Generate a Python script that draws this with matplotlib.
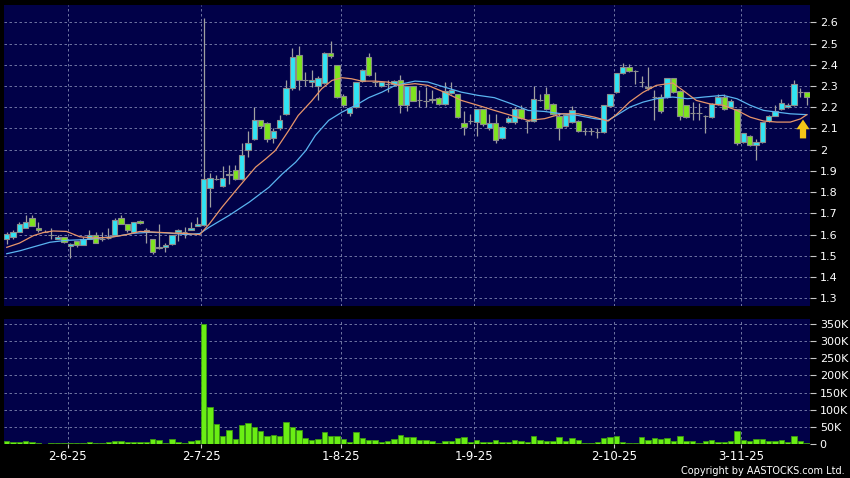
import numpy as np
import matplotlib
matplotlib.use("Agg")
import matplotlib.pyplot as plt

# daily candles, oldest first
opens = [1.58, 1.59, 1.61, 1.63, 1.68, 1.63, 1.61, 1.60, 1.58, 1.59,
         1.545, 1.57, 1.55, 1.58, 1.60, 1.58, 1.585, 1.60, 1.68, 1.65,
         1.61, 1.665, 1.62, 1.58, 1.535, 1.54, 1.555, 1.61, 1.61, 1.62,
         1.64, 1.645, 1.82, 1.86, 1.83, 1.88, 1.905, 1.86, 2.0, 2.05,
         2.14, 2.125, 2.055, 2.1, 2.17, 2.29, 2.445, 2.33, 2.32, 2.30,
         2.315, 2.455, 2.40, 2.255, 2.175, 2.2, 2.325, 2.435, 2.32, 2.30,
         2.31, 2.31, 2.33, 2.21, 2.30, 2.235, 2.23, 2.232, 2.245, 2.215,
         2.265, 2.26, 2.125, 2.135, 2.13, 2.19, 2.10, 2.125, 2.055, 2.13,
         2.13, 2.19, 2.135, 2.135, 2.235, 2.26, 2.215, 2.16, 2.11, 2.13,
         2.135, 2.09, 2.09, 2.085, 2.085, 2.205, 2.27, 2.36, 2.39, 2.37,
         2.32, 2.295, 2.25, 2.25, 2.25, 2.34, 2.275, 2.21, 2.175, 2.175,
         2.16, 2.155, 2.215, 2.25, 2.20, 2.19, 2.035, 2.065, 2.02, 2.035,
         2.135, 2.16, 2.19, 2.20, 2.21, 2.27, 2.27]
highs = [1.61, 1.62, 1.66, 1.69, 1.69, 1.66, 1.62, 1.63, 1.60, 1.59,
         1.56, 1.57, 1.59, 1.62, 1.61, 1.61, 1.63, 1.68, 1.69, 1.65,
         1.66, 1.67, 1.63, 1.58, 1.65, 1.56, 1.60, 1.625, 1.635, 1.66,
         1.683, 2.62, 1.89, 1.88, 1.925, 1.93, 1.93, 2.03, 2.09, 2.2,
         2.14, 2.13, 2.1, 2.165, 2.33, 2.48, 2.49, 2.365, 2.375, 2.345,
         2.46, 2.51, 2.40, 2.26, 2.2, 2.32, 2.38, 2.455, 2.365, 2.325,
         2.33, 2.33, 2.35, 2.30, 2.30, 2.28, 2.295, 2.28, 2.25, 2.32,
         2.32, 2.26, 2.18, 2.17, 2.19, 2.19, 2.17, 2.17, 2.11, 2.16,
         2.2, 2.21, 2.14, 2.30, 2.26, 2.295, 2.22, 2.17, 2.17, 2.205,
         2.14, 2.10, 2.10, 2.10, 2.21, 2.26, 2.36, 2.41, 2.405, 2.375,
         2.345, 2.39, 2.28, 2.26, 2.34, 2.34, 2.28, 2.21, 2.225, 2.22,
         2.165, 2.22, 2.26, 2.26, 2.24, 2.19, 2.08, 2.07, 2.05, 2.13,
         2.165, 2.21, 2.24, 2.22, 2.33, 2.29, 2.27]
lows = [1.555, 1.58, 1.61, 1.63, 1.64, 1.61, 1.61, 1.58, 1.58, 1.56,
        1.49, 1.54, 1.55, 1.58, 1.56, 1.57, 1.58, 1.60, 1.65, 1.61,
        1.61, 1.65, 1.56, 1.51, 1.53, 1.52, 1.55, 1.57, 1.585, 1.62,
        1.64, 1.64, 1.73, 1.855, 1.825, 1.84, 1.855, 1.855, 1.965, 2.045,
        2.1, 2.035, 2.03, 2.095, 2.165, 2.28, 2.28, 2.3, 2.295, 2.235,
        2.31, 2.43, 2.245, 2.2, 2.16, 2.195, 2.32, 2.345, 2.3, 2.295,
        2.27, 2.30, 2.175, 2.18, 2.23, 2.2, 2.2, 2.22, 2.21, 2.21,
        2.26, 2.15, 2.07, 2.12, 2.065, 2.11, 2.095, 2.03, 2.05, 2.125,
        2.12, 2.145, 2.08, 2.13, 2.23, 2.185, 2.165, 2.045, 2.105, 2.125,
        2.085, 2.07, 2.07, 2.056, 2.08, 2.2, 2.265, 2.355, 2.365, 2.31,
        2.295, 2.28, 2.14, 2.175, 2.245, 2.265, 2.14, 2.15, 2.14, 2.14,
        2.08, 2.15, 2.21, 2.185, 2.195, 2.02, 2.03, 2.015, 1.95, 2.03,
        2.13, 2.16, 2.185, 2.195, 2.205, 2.25, 2.21]
closes = [1.605, 1.61, 1.65, 1.66, 1.64, 1.62, 1.61, 1.60, 1.59, 1.565,
          1.555, 1.55, 1.58, 1.60, 1.56, 1.58, 1.585, 1.67, 1.65, 1.62,
          1.66, 1.655, 1.615, 1.52, 1.54, 1.55, 1.60, 1.62, 1.61, 1.632,
          1.648, 1.86, 1.865, 1.86, 1.865, 1.885, 1.86, 1.975, 2.03, 2.14,
          2.11, 2.05, 2.09, 2.14, 2.29, 2.435, 2.33, 2.33, 2.33, 2.34,
          2.455, 2.44, 2.25, 2.21, 2.195, 2.32, 2.375, 2.35, 2.32, 2.32,
          2.31, 2.325, 2.21, 2.30, 2.23, 2.235, 2.23, 2.24, 2.215, 2.275,
          2.28, 2.155, 2.105, 2.135, 2.19, 2.12, 2.125, 2.045, 2.105, 2.15,
          2.19, 2.15, 2.135, 2.24, 2.235, 2.19, 2.17, 2.10, 2.165, 2.185,
          2.09, 2.09, 2.09, 2.085, 2.21, 2.26, 2.36, 2.39, 2.37, 2.37,
          2.32, 2.29, 2.25, 2.18, 2.34, 2.27, 2.16, 2.155, 2.175, 2.175,
          2.16, 2.215, 2.25, 2.19, 2.23, 2.03, 2.08, 2.02, 2.035, 2.13,
          2.16, 2.18, 2.22, 2.21, 2.31, 2.27, 2.25]
volumes_k = [10, 7, 7, 10, 6, 2, 1, 4, 4, 3,
             3, 3, 4, 6, 4, 3, 5, 8, 8, 7,
             7, 7, 7, 14, 13, 4, 16, 6, 4, 9,
             12, 350, 107, 57, 22, 40, 15, 54, 62, 50,
             37, 22, 25, 22, 63, 49, 42, 17, 12, 15,
             34, 22, 22, 16, 7, 34, 17, 13, 11, 7,
             10, 16, 27, 21, 20, 12, 13, 8, 4, 9,
             9, 17, 21, 5, 12, 7, 7, 13, 6, 7,
             13, 8, 7, 22, 13, 10, 10, 19, 8, 17,
             12, 4, 4, 5, 17, 20, 23, 5, 4, 4,
             20, 12, 18, 14, 18, 8, 22, 10, 8, 4,
             10, 12, 6, 6, 8, 39, 12, 8, 15, 15,
             10, 10, 12, 7, 24, 8, 3]

# moving average lines at sample points
ma10_x = [0, 2, 4.2, 5.8, 7.3, 9.4, 11.5, 13.6, 16.3, 18.9, 21, 23.1, 26.2, 28.3,
          30.4, 31.9, 33.9, 36.5, 39.2, 40.8, 42.3, 44.4, 45.9, 48, 49.6, 51.2,
          52.8, 54.3, 55.9, 58, 60.1, 61.7, 64.3, 66.3, 68.9, 71.6, 74.2, 76.8,
          79.5, 82.1, 84.7, 87.4, 90, 92.6, 94.7, 96, 98.1, 100.2, 102.3, 104.9,
          106.5, 108.6, 110.7, 112.8, 115, 117.1, 119.2, 121.3, 123.4, 125, 126]
ma10_y = [1.54, 1.56, 1.595, 1.61, 1.617, 1.615, 1.59, 1.584, 1.587, 1.60, 1.615, 1.612, 1.607, 1.605,
          1.60, 1.65, 1.729, 1.823, 1.918, 1.957, 1.996, 2.09, 2.161, 2.229, 2.287, 2.326,
          2.339, 2.334, 2.323, 2.323, 2.318, 2.303, 2.311, 2.303, 2.271, 2.232, 2.209, 2.185,
          2.161, 2.138, 2.146, 2.169, 2.169, 2.153, 2.135, 2.165, 2.225, 2.27, 2.303, 2.314,
          2.279, 2.232, 2.216, 2.209, 2.185, 2.153, 2.135, 2.13, 2.13, 2.145, 2.165]
ma20_x = [0, 2.1, 4.2, 6.8, 9.4, 12.1, 14.7, 17.3, 19.9, 22.6, 25.2, 28.3, 30.4,
          31.9, 35, 38.2, 41.3, 43.4, 45.5, 47.1, 48.6, 50.7, 52.8, 54.9, 57, 59.1,
          61.2, 64.3, 66.3, 68.9, 71.6, 74.2, 76.8, 79.5, 82.1, 84.7, 87.4, 90, 92.6,
          94.7, 96, 98.1, 100.2, 102.3, 104.9, 107.2, 109.8, 112.8, 115, 117.1, 119.2,
          121.3, 123.4, 126]
ma20_y = [1.51, 1.524, 1.542, 1.564, 1.573, 1.576, 1.584, 1.592, 1.606, 1.611, 1.608, 1.60, 1.605,
          1.635, 1.69, 1.753, 1.823, 1.886, 1.941, 1.996, 2.067, 2.138, 2.177, 2.208, 2.245, 2.271,
          2.303, 2.323, 2.319, 2.295, 2.271, 2.256, 2.245, 2.216, 2.185, 2.18, 2.169, 2.161, 2.146,
          2.138, 2.161, 2.2, 2.224, 2.24, 2.248, 2.24, 2.248, 2.256, 2.24, 2.209, 2.185,
          2.177, 2.169, 2.165]

tick_days = [10, 31, 53, 74, 96, 116]
tick_labels = ["2-6-25", "2-7-25", "1-8-25", "1-9-25", "2-10-25", "3-11-25"]
price_ticks = [1.3, 1.4, 1.5, 1.6, 1.7, 1.8, 1.9, 2.0, 2.1, 2.2, 2.3, 2.4, 2.5, 2.6]
vol_ticks_k = [0, 50, 100, 150, 200, 250, 300, 350]

o = np.array(opens)
h = np.array(highs)
l = np.array(lows)
c = np.array(closes)
x = np.arange(len(o))

NAVY = "#010148"
CYAN = "#30e4f4"
GREEN = "#7ee41e"
DOJI = "#a8a8a8"
GRID = "#7f86b0"

fig = plt.figure(figsize=(8.5, 4.78), dpi=100, facecolor="black")
ax = fig.add_axes([4 / 850, 1 - 306 / 478, 806 / 850, 301 / 478])
axv = fig.add_axes([4 / 850, 1 - 444 / 478, 806 / 850, 124.7 / 478])

for a in (ax, axv):
    a.set_facecolor(NAVY)
    for s in a.spines.values():
        s.set_visible(False)
    a.set_xlim(-0.43, 126.5)
    a.yaxis.tick_right()
    a.tick_params(axis="y", colors="#c8c8c8", labelcolor="white", length=4,
                  width=0.8, pad=3, labelsize=8)
    a.set_xticks([d - 0.4 for d in tick_days])
    a.grid(True, color=GRID, lw=0.6, ls=(0, (3, 3)))
    a.set_axisbelow(True)

# candles
ax.vlines(x, l, h, colors="#a0a0a0", lw=0.9, zorder=2)
cols = [CYAN if cc > oo else (GREEN if cc < oo else DOJI) for oo, cc in zip(o, c)]
ax.bar(x, np.abs(c - o), bottom=np.minimum(o, c), width=0.85, color=cols,
       edgecolor="#8c8c8c", linewidth=0.8, zorder=3)

ax.plot(ma20_x, ma20_y, color="#5ab4f0", lw=0.9, zorder=4)
ax.plot(ma10_x, ma10_y, color="#e8956a", lw=0.9, zorder=4)

ax.annotate("", xy=(125.4, 2.155), xytext=(125.4, 2.04),
            arrowprops=dict(arrowstyle="simple,head_width=0.95,head_length=0.7,tail_width=0.45",
                            color="#f5c518", lw=0), zorder=5)

ax.set_ylim(1.2637, 2.6815)
ax.set_yticks(price_ticks)
ax.set_yticklabels([f"{v:g}" for v in price_ticks])
ax.tick_params(axis="x", length=0, labelbottom=False)

# volume
axv.bar(x, volumes_k, width=0.85, color="#6aee14", edgecolor="#3c9a10",
        linewidth=0.6, zorder=3)
axv.set_ylim(0, 363.7)
axv.set_yticks(vol_ticks_k)
axv.set_yticklabels(["0" if v == 0 else f"{v}K" for v in vol_ticks_k])
axv.set_xticklabels(tick_labels)
axv.tick_params(axis="x", colors="#c8c8c8", labelcolor="white", length=3,
                width=0.8, pad=1.5, labelsize=8.5)

fig.text(845 / 850, 1 - 471 / 478, "Copyright by AASTOCKS.com Ltd.", color="white",
         fontsize=7, ha="right", va="center")

fig.savefig("out.png", dpi=100, facecolor="black")
